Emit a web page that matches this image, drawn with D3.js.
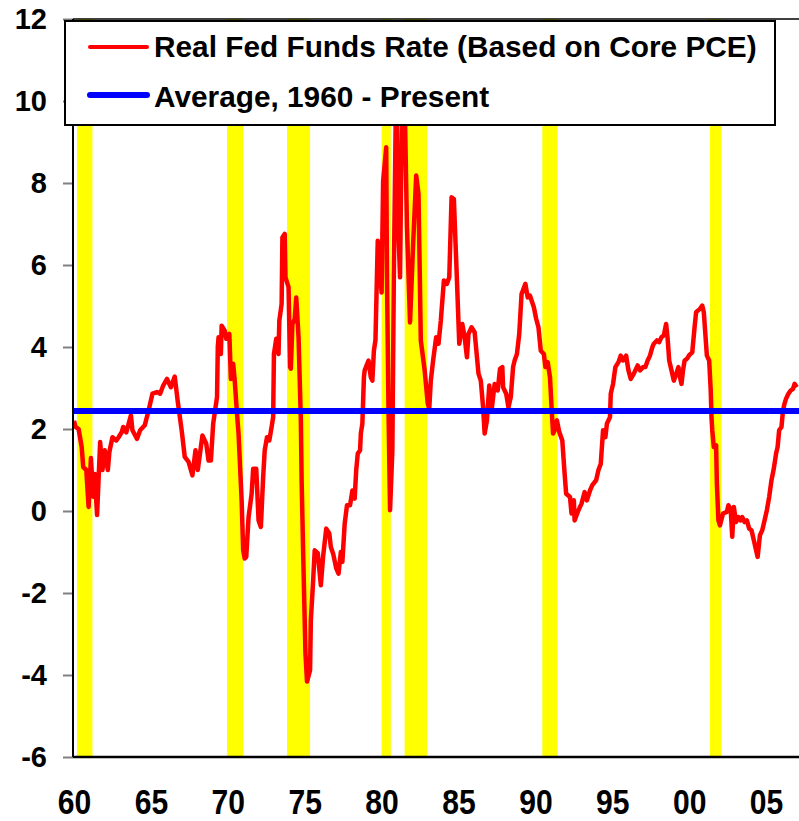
<!DOCTYPE html>
<html><head><meta charset="utf-8">
<script src="https://cdn.jsdelivr.net/npm/d3@7"></script>
<style>
html,body{margin:0;padding:0;background:#fff;}
svg{display:block;}
text{font-family:"Liberation Sans",Arial,sans-serif;font-weight:bold;fill:#000;}
</style></head><body>
<svg id="chart" width="799" height="821"></svg>
<script>
// ---- data ----
const seriesYears = [1960.0,1960.1,1960.3,1960.5,1960.6,1960.8,1960.95,1961.1,1961.25,1961.35,1961.5,1961.7,1961.85,1962.0,1962.2,1962.3,1962.5,1962.75,1962.9,1963.1,1963.2,1963.4,1963.7,1963.8,1964.1,1964.3,1964.6,1964.85,1965.1,1965.4,1965.6,1965.8,1966.05,1966.3,1966.55,1966.75,1967.0,1967.2,1967.45,1967.7,1967.9,1968.05,1968.35,1968.6,1968.75,1968.9,1969.05,1969.3,1969.35,1969.4,1969.55,1969.6,1969.8,1969.9,1970.1,1970.2,1970.35,1970.45,1970.6,1970.7,1970.9,1971.0,1971.1,1971.2,1971.35,1971.55,1971.65,1971.85,1972.0,1972.15,1972.3,1972.4,1972.55,1972.7,1972.85,1972.95,1973.0,1973.15,1973.3,1973.35,1973.5,1973.55,1973.7,1973.75,1973.95,1974.05,1974.1,1974.2,1974.35,1974.45,1974.6,1974.75,1974.8,1974.9,1975.05,1975.15,1975.35,1975.4,1975.55,1975.65,1975.85,1976.05,1976.2,1976.4,1976.6,1976.7,1976.85,1977.05,1977.2,1977.35,1977.45,1977.6,1977.75,1977.95,1978.1,1978.25,1978.35,1978.45,1978.6,1978.65,1978.75,1978.85,1978.9,1979.15,1979.3,1979.4,1979.5,1979.6,1979.75,1979.9,1980.0,1980.1,1980.3,1980.35,1980.45,1980.55,1980.7,1980.8,1980.95,1981.05,1981.2,1981.35,1981.5,1981.65,1981.85,1982.05,1982.25,1982.4,1982.55,1982.8,1983.0,1983.1,1983.2,1983.35,1983.55,1983.7,1983.85,1984.05,1984.25,1984.4,1984.55,1984.7,1984.9,1985.05,1985.25,1985.4,1985.55,1985.65,1985.85,1986.05,1986.3,1986.45,1986.6,1986.7,1986.85,1987.0,1987.15,1987.35,1987.55,1987.7,1987.85,1987.9,1988.1,1988.25,1988.4,1988.55,1988.65,1988.8,1988.95,1989.1,1989.35,1989.5,1989.65,1989.9,1990.05,1990.2,1990.35,1990.55,1990.65,1990.8,1990.95,1991.05,1991.15,1991.25,1991.4,1991.55,1991.75,1991.9,1992.0,1992.25,1992.35,1992.5,1992.55,1992.8,1993.0,1993.2,1993.35,1993.55,1993.7,1993.95,1994.1,1994.25,1994.4,1994.55,1994.65,1994.85,1994.9,1995.05,1995.2,1995.4,1995.55,1995.7,1995.9,1996.05,1996.2,1996.4,1996.65,1996.8,1997.0,1997.15,1997.3,1997.45,1997.6,1997.7,1997.9,1998.05,1998.2,1998.35,1998.5,1998.6,1998.7,1998.85,1999.0,1999.2,1999.3,1999.4,1999.5,1999.6,1999.7,1999.85,2000.0,2000.2,2000.35,2000.45,2000.7,2000.85,2000.95,2001.05,2001.15,2001.3,2001.4,2001.45,2001.5,2001.6,2001.75,2001.8,2001.9,2002.0,2002.2,2002.45,2002.55,2002.7,2002.8,2002.9,2003.05,2003.2,2003.35,2003.45,2003.6,2003.75,2003.9,2004.05,2004.2,2004.35,2004.45,2004.6,2004.75,2004.9,2005.05,2005.2,2005.35,2005.5,2005.65,2005.75,2005.85,2006.0,2006.1,2006.2,2006.3,2006.45,2006.6,2006.75,2006.85,2007.0];
const realFedFunds = [2.2,2.05,2.0,1.56,1.07,1.0,0.1,1.29,0.35,0.9,-0.1,1.68,1.0,1.48,1.0,1.44,1.8,1.72,1.8,1.92,2.05,1.92,2.33,1.97,1.76,1.97,2.09,2.45,2.86,2.9,2.86,3.06,3.22,3.02,3.28,2.66,1.97,1.32,1.2,0.87,1.48,1.0,1.84,1.64,1.23,1.23,2.13,2.78,4.0,4.24,3.83,4.52,4.4,4.2,4.32,3.22,3.59,3.18,2.37,1.88,0.26,-0.96,-1.16,-1.12,-0.15,0.42,1.03,1.03,-0.23,-0.39,0.83,1.48,1.8,1.72,2.05,2.29,3.83,4.2,3.83,4.64,5.05,6.67,6.76,5.7,5.46,3.51,3.47,4.56,4.68,5.21,4.24,2.21,0.75,-1.03,-3.47,-4.16,-3.88,-2.66,-1.69,-0.96,-1.03,-1.81,-1.1,-0.43,-0.55,-0.88,-1.04,-1.4,-1.53,-1.0,-1.24,-0.31,0.14,0.14,0.5,0.3,1.0,1.4,1.48,1.89,2.13,3.26,3.43,3.67,3.26,3.18,3.91,4.16,6.59,5.86,5.33,8.05,8.87,5.7,2.45,0.02,1.48,5.86,10.6,7.32,5.7,10.8,10.0,6.92,4.6,6.51,8.18,7.73,4.16,3.43,2.62,2.5,3.18,3.67,4.24,4.08,4.64,5.62,5.54,5.7,7.65,7.61,5.62,4.08,4.56,4.24,3.75,4.32,4.48,4.36,3.35,3.18,2.53,1.89,2.21,3.06,2.45,3.1,2.94,3.47,3.51,3.02,2.86,2.53,2.78,3.51,3.67,3.83,4.32,5.29,5.54,5.21,5.25,4.97,4.69,4.48,3.91,3.83,3.51,3.63,3.26,2.53,1.89,1.97,2.21,1.93,1.72,0.91,0.42,0.34,-0.06,0.26,-0.23,0.02,0.18,0.46,0.26,0.5,0.63,0.75,1.0,1.15,1.97,1.8,2.13,2.29,2.86,3.1,3.51,3.63,3.79,3.67,3.79,3.43,3.22,3.35,3.55,3.43,3.51,3.51,3.67,3.79,3.99,4.08,4.16,4.12,4.24,4.28,4.56,4.2,3.67,3.43,3.18,3.39,3.51,3.26,3.1,3.43,3.67,3.71,3.8,3.87,4.48,4.85,4.93,5.01,4.85,4.32,3.79,3.67,2.94,2.29,1.97,1.56,1.6,0.67,-0.23,-0.35,-0.06,-0.02,0.14,0.02,-0.63,0.1,-0.27,-0.15,-0.23,-0.15,-0.27,-0.23,-0.43,-0.47,-0.71,-0.96,-1.12,-0.59,-0.47,-0.23,0.02,0.34,0.75,1.03,1.4,1.56,1.97,2.05,2.45,2.62,2.74,2.86,2.94,2.98,3.1,3.02];
const averageValue = 2.44;
const recessionStart = [1960.2,1969.95,1973.85,1980.0,1981.5,1990.45,2001.35];
const recessionEnd   = [1961.2,1971.0,1975.35,1980.6,1982.95,1991.45,2002.1];
const yTicks = [-6,-4,-2,0,2,4,6,8,10,12];
const xTickYears = [1960,1965,1970,1975,1980,1985,1990,1995,2000,2005];
const xTickLabels = ["60","65","70","75","80","85","90","95","00","05"];
const legendLabels = ["Real Fed Funds Rate (Based on Core PCE)","Average, 1960 - Present"];
const legendColors = ["#ff0000","#0000ff"];

(function(){
const svg = d3.select("#chart");
const pLeft = 73, pRight = 799, pTop = 19, pBottom = 757;
const x = d3.scaleLinear().domain([1960, 2007.14]).range([74, 799]);
const y = d3.scaleLinear().domain([-6, 12]).range([pBottom, pTop]);

svg.append("defs").append("clipPath").attr("id","plotclip")
  .append("rect").attr("x",pLeft).attr("y",pTop).attr("width",pRight-pLeft).attr("height",pBottom-pTop);

const plot = svg.append("g").attr("clip-path","url(#plotclip)");

plot.selectAll("rect.rec").data(recessionStart).join("rect").attr("class","rec")
  .attr("x", (d)=>x(d)).attr("width",(d,i)=>x(recessionEnd[i])-x(d))
  .attr("y", pTop).attr("height", pBottom-pTop).attr("fill","#ffff00");

const n = Math.min(seriesYears.length, realFedFunds.length);
const pts = seriesYears.slice(0,n).map((yr,i)=>[yr, realFedFunds[i]]);
plot.append("path").datum(pts)
  .attr("d", d3.line().x(d=>x(d[0])).y(d=>y(d[1])))
  .attr("fill","none").attr("stroke","#ff0000").attr("stroke-width",4.5)
  .attr("stroke-linejoin","round");

plot.append("line").attr("x1",pLeft).attr("x2",pRight)
  .attr("y1",y(averageValue)).attr("y2",y(averageValue))
  .attr("stroke","#0000ff").attr("stroke-width",6);

const yAxis = d3.axisLeft(y).tickValues(yTicks).tickSize(10).tickPadding(16).tickFormat(d=>String(d));
const gy = svg.append("g").attr("transform",`translate(${pLeft},0)`).call(yAxis);
gy.select(".domain").remove();
gy.selectAll(".tick line").attr("stroke","#808080").attr("stroke-width",2);
gy.selectAll(".tick text").style("font-size","29px").attr("fill","#000")
  .style("font-family","'Liberation Sans',Arial,sans-serif").style("font-weight","bold");

const xAxis = d3.axisBottom(x).tickValues(xTickYears).tickSize(0).tickPadding(32)
  .tickFormat((d,i)=>xTickLabels[i]);
const gx = svg.append("g").attr("transform",`translate(0,${pBottom})`).call(xAxis);
gx.select(".domain").remove();
gx.selectAll(".tick text").style("font-size","35px").attr("fill","#000")
  .attr("transform","scale(0.86,1)")
  .style("font-family","'Liberation Sans',Arial,sans-serif").style("font-weight","bold");

svg.append("line").attr("x1",pLeft).attr("x2",pLeft).attr("y1",pTop).attr("y2",pBottom).attr("stroke","#000").attr("stroke-width",2);
svg.append("line").attr("x1",pLeft).attr("x2",pRight).attr("y1",pBottom).attr("y2",pBottom).attr("stroke","#000").attr("stroke-width",2.5);
svg.append("line").attr("x1",pLeft).attr("x2",pRight).attr("y1",pTop).attr("y2",pTop).attr("stroke","#000").attr("stroke-width",1.5);

const lg = svg.append("g");
lg.append("rect").attr("x",65).attr("y",21).attr("width",710).attr("height",104)
  .attr("fill","#fff").attr("stroke","#000").attr("stroke-width",2);
legendLabels.forEach((lab,i)=>{
  const yy = 47 + i*48;
  lg.append("line").attr("x1",90).attr("x2",147).attr("y1",yy).attr("y2",yy)
    .attr("stroke",legendColors[i]).attr("stroke-width", i===0?4:6).attr("stroke-linecap","round");
  lg.append("text").attr("x",154).attr("y",[57,107][i]).text(lab).style("font-size","29.8px");
});
})();
</script></body></html>
